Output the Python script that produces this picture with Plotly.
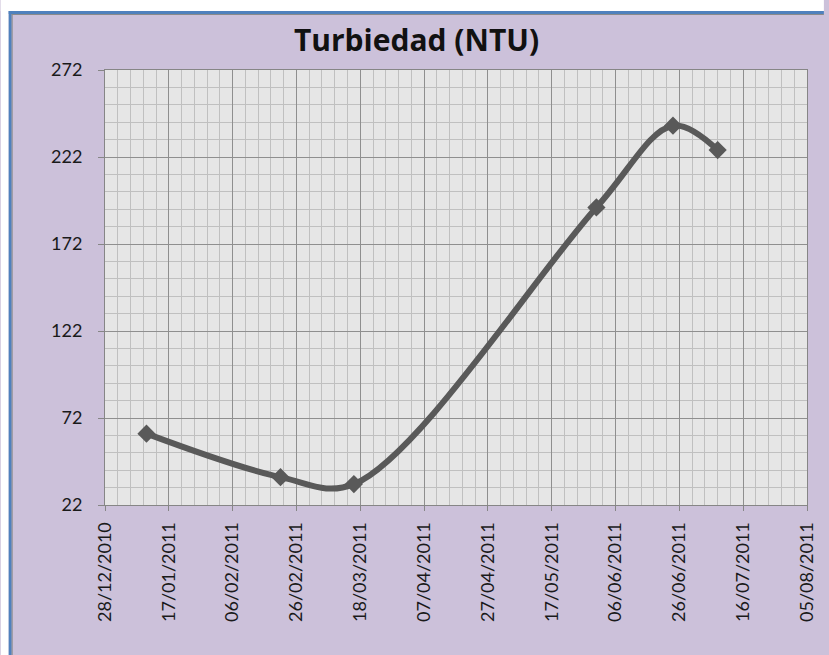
import plotly.graph_objects as go

dates = ["2011-01-10", "2011-02-21", "2011-03-16", "2011-05-31", "2011-06-24", "2011-07-08"]
turbidity = [63, 38, 34, 193, 240, 226]

x_range = ["2010-12-28", "2011-08-05"]
y_range = [22, 272]

W, H = 829, 655
ML, MR, MT, MB = 105, 17, 70, 150
PW, PH = W - ML - MR, H - MT - MB

def px_x(p):
    return (p - ML) / PW

def px_y(p):
    return (H - MB - p) / PH

DAY = 86400000
font_family = "Lato, 'Open Sans', sans-serif"

fig = go.Figure()
fig.add_trace(go.Scatter(
    x=dates, y=turbidity, mode="lines+markers",
    line=dict(color="#595959", width=6, shape="spline", smoothing=1),
    marker=dict(symbol="diamond", size=14, color="#595959"),
    showlegend=False, hoverinfo="x+y",
))

grid_major = "#8f8f8f"
grid_minor = "#c0c0c0"

fig.update_xaxes(
    type="date", range=x_range, tick0="2010-12-28", dtick=20 * DAY,
    tickformat="%d/%m/%Y", tickangle=-90,
    ticks="outside", ticklen=5, tickcolor="#868686",
    showgrid=True, gridcolor=grid_major, gridwidth=1,
    minor=dict(dtick=4 * DAY, tick0="2010-12-28", showgrid=True, gridcolor=grid_minor, gridwidth=1),
    showline=True, linecolor="#868686", linewidth=1, mirror=True,
    tickfont=dict(family=font_family, size=18, color="#1a1a1a"),
    ticklabelstandoff=4, zeroline=False,
)
fig.update_yaxes(
    range=y_range, tick0=22, dtick=50,
    ticks="outside", ticklen=6, tickcolor="#868686",
    showgrid=True, gridcolor=grid_major, gridwidth=1,
    minor=dict(dtick=10, tick0=22, showgrid=True, gridcolor=grid_minor, gridwidth=1),
    showline=True, linecolor="#868686", linewidth=1, mirror=True,
    tickfont=dict(family=font_family, size=18, color="#1a1a1a"),
    ticklabelstandoff=12, zeroline=False,
)

shapes = [
    # white strips (cropped outside area)
    dict(type="rect", xref="paper", yref="paper", x0=px_x(0), x1=px_x(W), y0=px_y(11), y1=px_y(0),
         fillcolor="white", line=dict(width=0), layer="above"),
    dict(type="rect", xref="paper", yref="paper", x0=px_x(0), x1=px_x(8), y0=px_y(H), y1=px_y(0),
         fillcolor="white", line=dict(width=0), layer="above"),
    # blue border top and left
    dict(type="rect", xref="paper", yref="paper", x0=px_x(8), x1=px_x(W), y0=px_y(14), y1=px_y(11),
         fillcolor="#4f81bd", line=dict(width=0), layer="above"),
    dict(type="rect", xref="paper", yref="paper", x0=px_x(8), x1=px_x(11), y0=px_y(H), y1=px_y(11),
         fillcolor="#4f81bd", line=dict(width=0), layer="above"),
    # thin gray inner lines
    dict(type="rect", xref="paper", yref="paper", x0=px_x(11), x1=px_x(W), y0=px_y(15), y1=px_y(14),
         fillcolor="#8a8a8a", line=dict(width=0), layer="above"),
    dict(type="rect", xref="paper", yref="paper", x0=px_x(11), x1=px_x(12), y0=px_y(H), y1=px_y(14),
         fillcolor="#8a8a8a", line=dict(width=0), layer="above"),
]

fig.update_layout(
    width=W, height=H,
    margin=dict(l=ML, r=MR, t=MT, b=MB, pad=0),
    paper_bgcolor="#ccc1da", plot_bgcolor="#e6e6e6",
    title=dict(text="<b>Turbiedad (NTU)</b>", x=416.5 / W, xref="container", xanchor="center",
               y=1 - 40 / H, yref="container", yanchor="middle",
               font=dict(family="'Open Sans', Lato, sans-serif", size=30, color="#111111")),
    shapes=shapes,
)

fig.write_html(
    "out.html",
    config={"displayModeBar": False},
    post_script="document.body.style.margin='0';document.body.style.overflow='hidden';",
)
